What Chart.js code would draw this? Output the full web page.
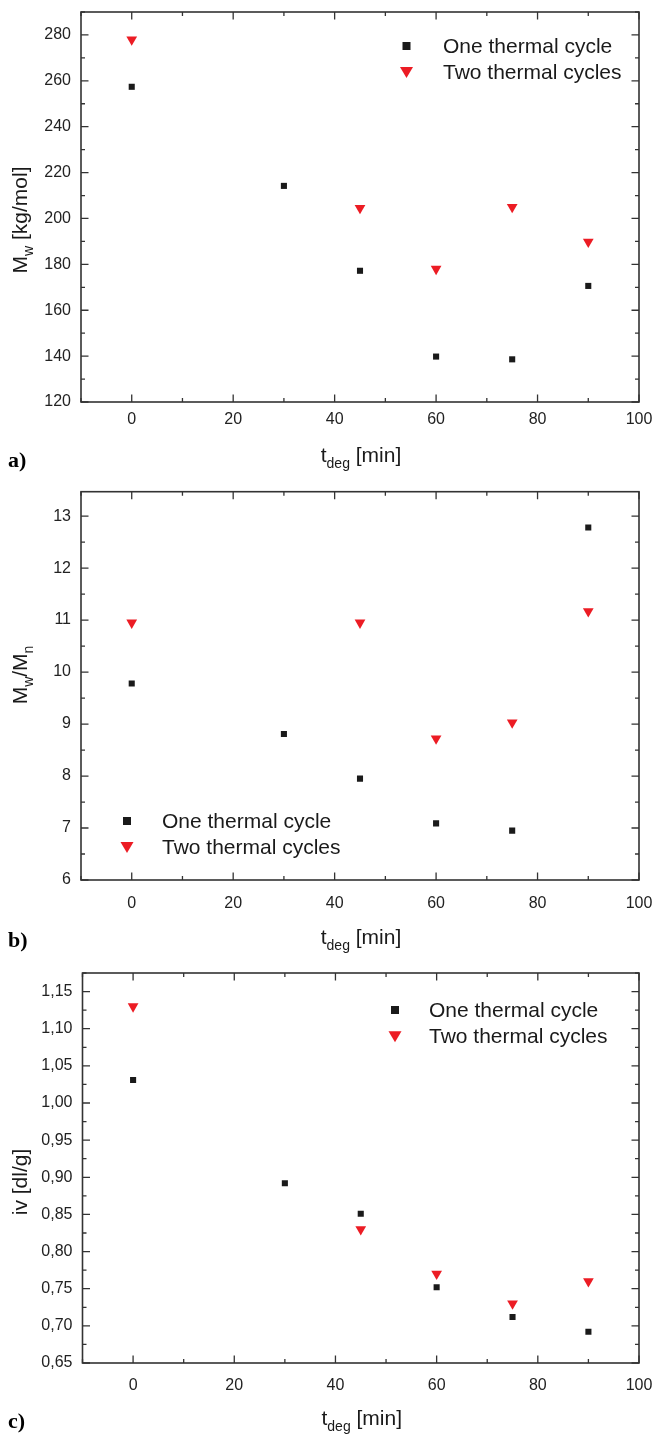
<!DOCTYPE html>
<html>
<head>
<meta charset="utf-8">
<script src="https://cdn.jsdelivr.net/npm/chart.js@4/dist/chart.umd.min.js"></script>
<style>
  body { margin: 0; background: #fff; }
  canvas { position: absolute; left: 0; }
</style>
</head>
<body>
<canvas id="chartA" width="655" height="480" style="top:0px"></canvas>
<canvas id="chartB" width="655" height="480" style="top:478px"></canvas>
<canvas id="chartC" width="655" height="484" style="top:950px"></canvas>
<script>
// degradation time [min]
const timeOne = [0, 30, 45, 60, 75, 90];
const timeTwo = [0, 45, 60, 75, 90];

// a) weight average molar mass [kg/mol]
const mwOne = [257.4, 214.2, 177.2, 139.8, 138.6, 170.6];
const mwTwo = [278.0, 204.5, 178.0, 205.0, 189.8];

// b) polydispersity Mw/Mn
const pdiOne = [9.78, 8.81, 7.95, 7.09, 6.95, 12.78];
const pdiTwo = [10.95, 10.95, 8.72, 9.03, 11.17];

// c) intrinsic viscosity [dl/g]
const ivOne = [1.031, 0.892, 0.851, 0.752, 0.712, 0.692];
const ivTwo = [1.130, 0.830, 0.770, 0.730, 0.760];

const seriesNames = ['One thermal cycle', 'Two thermal cycles'];

const FONT = "'Liberation Sans', Arial, sans-serif";
const RED = '#ec1c24';
const BLACK = '#1a1a1a';
const AXIS = '#333';

Chart.defaults.font.family = FONT;
Chart.defaults.color = '#222';

function steps(min, max, step) {
    const out = [];
    const first = Math.ceil(min / step - 1e-9);
    const last = Math.floor(max / step + 1e-9);
    for (let i = first; i <= last; i++) out.push(+(i * step).toFixed(6));
    return out;
}

function isMajor(v, step) {
    const r = v / step;
    return Math.abs(r - Math.round(r)) < 1e-6;
}

// text made of parts, some of them subscript
function richWidth(ctx, parts) {
    let w = 0;
    parts.forEach(p => {
        ctx.font = (p.sub ? '14px ' : '21px ') + FONT;
        w += ctx.measureText(p.t).width;
    });
    return w;
}
function drawRich(ctx, parts, x, y) {
    let cx = x;
    parts.forEach(p => {
        ctx.font = (p.sub ? '14px ' : '21px ') + FONT;
        ctx.fillText(p.t, cx, p.sub ? y + 6 : y);
        cx += ctx.measureText(p.t).width;
    });
}

const decoPlugin = {
    id: 'deco',
    beforeDatasetsDraw(chart, args, o) {
        const ctx = chart.ctx;
        const {left, right, top, bottom} = chart.chartArea;
        const xs = chart.scales.x, ys = chart.scales.y;
        ctx.save();
        ctx.strokeStyle = AXIS;
        ctx.lineWidth = 1.3;
        ctx.beginPath();
        steps(xs.min, xs.max, o.xMinor).forEach(v => {
            const p = xs.getPixelForValue(v);
            const len = isMajor(v, o.xMajor) ? 7.5 : 4;
            ctx.moveTo(p, bottom); ctx.lineTo(p, bottom - len);
            ctx.moveTo(p, top); ctx.lineTo(p, top + len);
        });
        steps(ys.min, ys.max, o.yMinor).forEach(v => {
            const p = ys.getPixelForValue(v);
            const len = isMajor(v, o.yMajor) ? 7.5 : 4;
            ctx.moveTo(left, p); ctx.lineTo(left + len, p);
            ctx.moveTo(right, p); ctx.lineTo(right - len, p);
        });
        ctx.stroke();
        ctx.lineWidth = 1.6;
        ctx.strokeRect(left, top, right - left, bottom - top);
        ctx.restore();
    },
    afterDraw(chart, args, o) {
        const ctx = chart.ctx;
        const {left, right} = chart.chartArea;
        ctx.save();
        ctx.fillStyle = '#1a1a1a';
        ctx.textBaseline = 'alphabetic';
        ctx.textAlign = 'left';

        // x title
        const xParts = [{t: 't'}, {t: 'deg', sub: true}, {t: ' [min]'}];
        const xw = richWidth(ctx, xParts);
        drawRich(ctx, xParts, (left + right) / 2 - xw / 2 + 1, o.xTitleY);

        // y title (rotated)
        const yw = richWidth(ctx, o.yTitle);
        ctx.save();
        ctx.translate(o.yTitleX, o.yTitleY);
        ctx.rotate(-Math.PI / 2);
        drawRich(ctx, o.yTitle, -yw / 2, 0);
        ctx.restore();

        // legend
        const [r1, r2] = o.legendRows;
        ctx.fillStyle = BLACK;
        ctx.fillRect(o.legendSym - 4, r1 - 4, 8, 8);
        ctx.fillStyle = RED;
        ctx.beginPath();
        ctx.moveTo(o.legendSym - 6.5, r2 - 5.5);
        ctx.lineTo(o.legendSym + 6.5, r2 - 5.5);
        ctx.lineTo(o.legendSym, r2 + 5.5);
        ctx.closePath();
        ctx.fill();
        ctx.fillStyle = '#1a1a1a';
        ctx.font = '21px ' + FONT;
        ctx.textBaseline = 'middle';
        ctx.fillText(seriesNames[0], o.legendText, r1 + 1);
        ctx.fillText(seriesNames[1], o.legendText, r2 + 1);

        // panel letter
        ctx.textBaseline = 'alphabetic';
        ctx.font = "bold 22px 'Liberation Serif', 'Times New Roman', serif";
        ctx.fillStyle = '#000';
        ctx.fillText(o.letter, 8, o.letterY);
        ctx.restore();
    }
};

function createPanel(canvasId, one, two, p) {
    const canvas = document.getElementById(canvasId);
    const adj = {left: 0, bottom: 0};
    const pad = {top: p.area.top, right: canvas.width - p.area.right, left: 0, bottom: 0};
    const data = {
        datasets: [
            {
                label: seriesNames[0],
                data: timeOne.map((t, i) => ({x: t, y: one[i]})),
                pointStyle: 'rect',
                pointRadius: 4.3,
                pointBackgroundColor: BLACK,
                pointBorderWidth: 0,
                showLine: false
            },
            {
                label: seriesNames[1],
                data: timeTwo.map((t, i) => ({x: t, y: two[i]})),
                pointStyle: 'triangle',
                pointRotation: 180,
                pointRadius: 6.2,
                pointBackgroundColor: RED,
                pointBorderWidth: 0,
                showLine: false
            }
        ]
    };
    const config = {
        type: 'scatter',
        data: data,
        plugins: [decoPlugin],
        options: {
            responsive: false,
            animation: false,
            events: [],
            layout: {padding: pad},
            plugins: {
                legend: {display: false},
                tooltip: {enabled: false},
                deco: p.deco
            },
            scales: {
                x: {
                    type: 'linear',
                    min: -10,
                    max: 100,
                    grid: {display: false, drawTicks: false},
                    border: {display: false},
                    ticks: {
                        stepSize: 20,
                        includeBounds: false,
                        padding: p.xPad,
                        maxRotation: 0,
                        font: {size: 16}
                    },
                    afterFit: s => {
                        s.height = canvas.height - p.area.bottom + adj.bottom;
                        s.paddingLeft = 0;
                        s.paddingRight = 0;
                    }
                },
                y: {
                    min: p.yMin,
                    max: p.yMax,
                    grid: {display: false, drawTicks: false},
                    border: {display: false},
                    ticks: {
                        stepSize: p.yStep,
                        includeBounds: false,
                        maxTicksLimit: 30,
                        padding: 10,
                        font: {size: 16},
                        callback: p.yFormat
                    },
                    afterFit: s => {
                        s.width = p.area.left + adj.left;
                        s.paddingTop = 0;
                        s.paddingBottom = 0;
                    }
                }
            }
        }
    };
    const chart = new Chart(canvas, config);
    // nudge the layout until the plot frame sits where the reference has it
    for (let i = 0; i < 3; i++) {
        const a = chart.chartArea;
        const dl = a.left - p.area.left, dr = a.right - p.area.right;
        const dt = a.top - p.area.top, db = a.bottom - p.area.bottom;
        if (Math.abs(dl) + Math.abs(dr) + Math.abs(dt) + Math.abs(db) < 0.2) break;
        pad.right += dr;
        pad.top -= dt;
        adj.left -= dl;
        adj.bottom += db;
        chart.update();
    }
    return chart;
}

createPanel('chartA', mwOne, mwTwo, {
    area: {top: 12, bottom: 402, left: 81, right: 639},
    yMin: 120, yMax: 290, yStep: 20, xPad: 8,
    yFormat: v => String(v),
    deco: {
        xMajor: 20, xMinor: 10, yMajor: 20, yMinor: 10,
        xTitleY: 462,
        yTitle: [{t: 'M'}, {t: 'w', sub: true}, {t: ' [kg/mol]'}],
        yTitleX: 27, yTitleY: 220,
        legendSym: 406.5, legendText: 443, legendRows: [46, 72.5],
        letter: 'a)', letterY: 467
    }
});

createPanel('chartB', pdiOne, pdiTwo, {
    area: {top: 13.7, bottom: 402, left: 81, right: 639},
    yMin: 6, yMax: 13.47, yStep: 1, xPad: 13.5,
    yFormat: v => String(v),
    deco: {
        xMajor: 20, xMinor: 10, yMajor: 1, yMinor: 0.5,
        xTitleY: 465.5,
        yTitle: [{t: 'M'}, {t: 'w', sub: true}, {t: '/M'}, {t: 'n', sub: true}],
        yTitleX: 27, yTitleY: 197,
        legendSym: 127, legendText: 162, legendRows: [343, 369.5],
        letter: 'b)', letterY: 469
    }
});

createPanel('chartC', ivOne, ivTwo, {
    area: {top: 23, bottom: 413, left: 82.5, right: 639},
    yMin: 0.65, yMax: 1.175, yStep: 0.05, xPad: 12.5,
    yFormat: v => v.toFixed(2).replace('.', ','),
    deco: {
        xMajor: 20, xMinor: 10, yMajor: 0.05, yMinor: 0.025,
        xTitleY: 474.5,
        yTitle: [{t: 'iv [dl/g]'}],
        yTitleX: 27, yTitleY: 232,
        legendSym: 395, legendText: 429, legendRows: [60, 86.7],
        letter: 'c)', letterY: 478
    }
});
</script>
</body>
</html>
